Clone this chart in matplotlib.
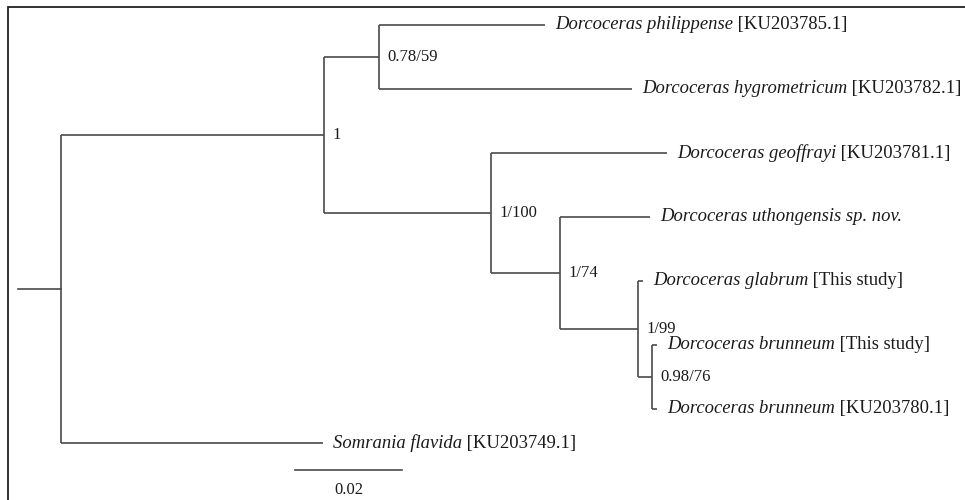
import matplotlib
matplotlib.use('Agg')
import matplotlib.pyplot as plt
from matplotlib.patches import Rectangle

# leaves, top to bottom
taxa = ['Dorcoceras philippense', 'Dorcoceras hygrometricum', 'Dorcoceras geoffrayi',
        'Dorcoceras uthongensis sp. nov.', 'Dorcoceras glabrum', 'Dorcoceras brunneum',
        'Dorcoceras brunneum', 'Somrania flavida']
tags = ['[KU203785.1]', '[KU203782.1]', '[KU203781.1]', '', '[This study]',
        '[This study]', '[KU203780.1]', '[KU203749.1]']
leaf_ids = ['phil', 'hygro', 'geoff', 'uth', 'glab', 'brun1', 'brun2', 'somr']

# edges (parent -> child, branch length in substitutions/site)
edge_parent = ['root', 'root', 'A', 'A', 'B', 'B', 'C', 'C', 'D', 'D', 'E', 'E', 'F', 'F']
edge_child = ['A', 'somr', 'B', 'C', 'phil', 'hygro', 'geoff', 'D', 'uth', 'E', 'glab', 'F', 'brun1', 'brun2']
edge_length = [0.0492, 0.0490, 0.0103, 0.0312, 0.0310, 0.0473, 0.0329, 0.0129,
               0.0168, 0.0146, 0.0009, 0.0026, 0.0009, 0.0009]

support_nodes = ['A', 'B', 'C', 'D', 'E', 'F']
support_labels = ['1', '0.78/59', '1/100', '1/74', '1/99', '0.98/76']

root_stub = 0.008
scale_len = 0.02

# layout
leaf_rows = [0, 1, 2, 3, 4, 5, 6, 6.53]
px = 0.02 / 107  # data units per pixel
line_col = '#4a4a4a'
txt_col = '#1a1a1a'
serif = 'Liberation Serif'

children = {}
lengths = {}
for p, c, l in zip(edge_parent, edge_child, edge_length):
    children.setdefault(p, []).append(c)
    lengths[c] = l

xpos = {'root': 0.0}
ypos = dict(zip(leaf_ids, leaf_rows))


def place(node):
    for c in children.get(node, []):
        xpos[c] = xpos[node] + lengths[c]
        place(c)
    if node in children:
        ys = [ypos[c] for c in children[node]]
        ypos[node] = (min(ys) + max(ys)) / 2


place('root')

fig = plt.figure(figsize=(9.65, 5.0), dpi=100)
ax = fig.add_axes([0, 0, 1, 1])
ax.set_xlim(-61 * px, 904 * px)
ax.set_ylim((500 - 25) / 64, -25 / 64)
ax.axis('off')

# frame (only left and top visible, like a cropped box)
fig.add_artist(Rectangle((8 / 965, -0.2), 1.2, 1.2 - 7 / 500, transform=fig.transFigure,
                         fill=False, edgecolor='#222222', lw=1.3))

lw = 1.2
for node, kids in children.items():
    ys = [ypos[c] for c in kids]
    ax.plot([xpos[node], xpos[node]], [min(ys), max(ys)], color=line_col, lw=lw,
            solid_capstyle='butt')
    for c in kids:
        ax.plot([xpos[node], xpos[c]], [ypos[c], ypos[c]], color=line_col, lw=lw,
                solid_capstyle='butt')
ax.plot([-root_stub, 0], [ypos['root'], ypos['root']], color=line_col, lw=lw)

fs = 13.4
for lid, name, tag in zip(leaf_ids, taxa, tags):
    t1 = ax.annotate(name, (xpos[lid], ypos[lid]), xytext=(7, 0), textcoords='offset points',
                     ha='left', va='center', fontsize=fs, style='italic', family=serif,
                     color=txt_col)
    if tag:
        ax.annotate(' ' + tag, xy=(1, 0), xycoords=t1, ha='left', va='bottom',
                    fontsize=fs, family=serif, color=txt_col)

for n, lab in zip(support_nodes, support_labels):
    ax.annotate(lab, (xpos[n], ypos[n]), xytext=(6, 0), textcoords='offset points',
                ha='left', va='center', fontsize=12, family=serif, color=txt_col)

# scale bar
sb_x, sb_y = 234 * px, (470 - 25) / 64
ax.plot([sb_x, sb_x + scale_len], [sb_y, sb_y], color=line_col, lw=lw)
ax.annotate(f'{scale_len:g}', (sb_x + scale_len / 2, sb_y), xytext=(0, -9),
            textcoords='offset points', ha='center', va='top', fontsize=12,
            family=serif, color=txt_col)

fig.savefig('out.png', dpi=100, facecolor='white')
